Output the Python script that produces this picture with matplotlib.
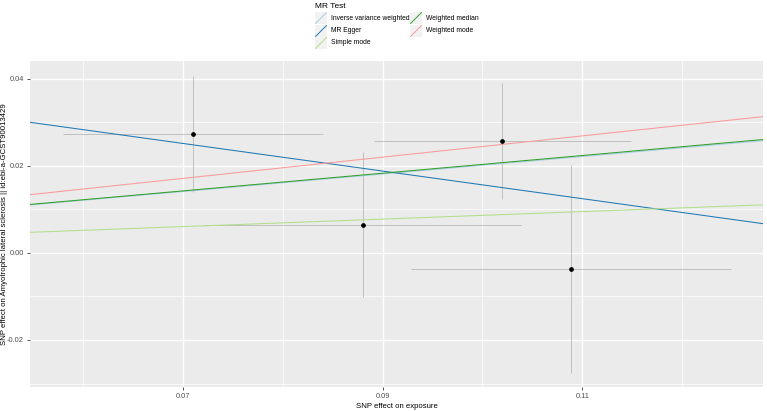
import matplotlib
matplotlib.use("Agg")
import matplotlib.pyplot as plt
import numpy as np

plt.rcParams['font.family'] = ['Liberation Sans', 'DejaVu Sans']

# SNP estimates
snp_x = [0.0710, 0.0880, 0.1020, 0.1089]
snp_y = [0.0273, 0.0065, 0.0257, -0.0037]
se_x = [0.0130, 0.0159, 0.0129, 0.0160]
se_y = [0.0134, 0.0167, 0.0133, 0.0238]

# MR methods: intercept, slope
methods = ["Inverse variance weighted", "MR Egger", "Simple mode",
           "Weighted median", "Weighted mode"]
intercepts = [0.0, 0.0473, 0.0, 0.0, 0.0]
slopes = [0.201, -0.317, 0.086, 0.203, 0.244]
colors = ["#A6CEE3", "#1F78B4", "#B2DF8A", "#33A02C", "#FB9A99"]

W, H = 767, 411
fig = plt.figure(figsize=(W / 100, H / 100), dpi=100)
ax = fig.add_axes([30 / W, 1 - 387 / H, 733 / W, 326.3 / H])
ax.set_facecolor("#EBEBEB")
for s in ax.spines.values():
    s.set_visible(False)

ax.set_xlim(0.0547, 0.1281)
ax.set_ylim(-0.0308, 0.0441)
ax.set_xticks([0.07, 0.09, 0.11])
ax.set_xticklabels(["0.07", "0.09", "0.11"])
ax.set_yticks([-0.02, 0.0, 0.02, 0.04])
ax.set_yticklabels(["-0.02", "0.00", "0.02", "0.04"])
ax.set_xticks([0.06, 0.08, 0.10, 0.12], minor=True)
ax.set_yticks([-0.03, -0.01, 0.01, 0.03], minor=True)
ax.grid(which="major", color="white", lw=1.0)
ax.grid(which="minor", color="white", lw=0.5)
ax.set_axisbelow(True)
ax.tick_params(which="major", length=2.5, width=0.6, color="#333333",
               labelsize=5.3, labelcolor="#4D4D4D", pad=2)
ax.tick_params(which="minor", length=0)

# error bars
ax.errorbar(snp_x, snp_y, xerr=se_x, yerr=se_y, fmt="none",
            ecolor="#B4B4B4", elinewidth=0.55, capsize=0, zorder=2)

# method lines
for m in range(len(methods)):
    ax.axline((0, intercepts[m]), slope=slopes[m], color=colors[m],
              lw=0.75, zorder=3)

ax.plot(snp_x, snp_y, "o", color="black", markersize=2.4, zorder=4)

ax.set_xlabel("SNP effect on exposure", fontsize=5.6)
ax.xaxis.set_label_coords(0.5, -(403 - 387) / 326.3)
ax.set_ylabel("SNP effect on Amyotrophic lateral sclerosis || id:ebi-a-GCST90013429",
              fontsize=5.6)
ax.yaxis.set_label_coords(-(30 - 8) / 733, 0.5)

# legend drawn by hand in ggplot style
fig.text(315 / W, 1 - 6 / H, "MR Test", fontsize=6, va="center", ha="left")
key_cols = [315, 410]
key_rows = [18, 31, 43]
for m in range(len(methods)):
    col = m // 3
    row = m % 3
    kx = key_cols[col]
    ky = key_rows[row]
    kax = fig.add_axes([kx / W, 1 - (ky + 6) / H, 12 / W, 12 / H])
    kax.set_facecolor("#F2F2F2")
    kax.set_xlim(0, 1)
    kax.set_ylim(0, 1)
    kax.plot([0.05, 0.95], [0.05, 0.95], color=colors[m], lw=0.7)
    kax.set_xticks([])
    kax.set_yticks([])
    for s in kax.spines.values():
        s.set_visible(False)
    fig.text((kx + 16) / W, 1 - ky / H, methods[m], fontsize=4.9,
             va="center", ha="left")

fig.savefig("out.png", dpi=100)
